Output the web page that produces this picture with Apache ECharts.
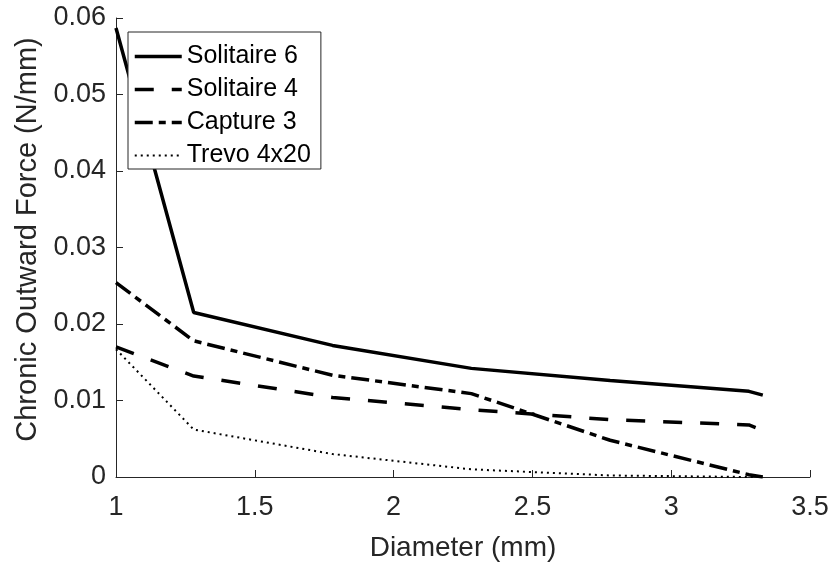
<!DOCTYPE html>
<html>
<head>
<meta charset="utf-8">
<script src="https://cdn.jsdelivr.net/npm/echarts@6/dist/echarts.min.js"></script>
<style>
  html, body { margin: 0; padding: 0; background: #fff; }
  #chart { width: 839px; height: 567px; }
</style>
</head>
<body>
<div id="chart"></div>
<script>
  // diameters (mm) where the curves were sampled
  var diameters = [1, 1.28, 1.78, 2.28, 2.78, 3.28, 3.33];

  var solitaire6 = [0.0587, 0.0215, 0.0172, 0.0142, 0.0126, 0.0112, 0.0107];
  var solitaire4 = [0.0170, 0.0132, 0.0104, 0.0088, 0.0075, 0.0068, 0.0061];
  var capture3   = [0.0254, 0.0178, 0.0133, 0.0109, 0.0048, 0.0003, 0.0000];
  var trevo      = [0.0167, 0.0062, 0.0030, 0.0010, 0.0002, 0.0000, 0.0000];

  var seriesNames = ['Solitaire 6', 'Solitaire 4', 'Capture 3', 'Trevo 4x20'];

  var xTicks = [1, 1.5, 2, 2.5, 3, 3.5];
  var yTicks = [0, 0.01, 0.02, 0.03, 0.04, 0.05, 0.06];

  var fontName = '"Liberation Sans", Arial, sans-serif';
  var axisColor = '#262626';

  var styles = [
    { width: 3.5, type: 'solid' },
    { width: 3.5, type: [19, 18] },
    { width: 3.5, type: [18, 6, 7, 6] },
    { width: 2, type: [2, 4] }
  ];

  function pairs(ys) {
    return diameters.map(function (d, i) { return [d, ys[i]]; });
  }

  function makeSeries(idx, ys) {
    return {
      name: seriesNames[idx],
      type: 'line',
      data: pairs(ys),
      symbol: 'none',
      animation: false,
      itemStyle: { color: '#000' },
      lineStyle: { color: '#000', width: styles[idx].width, type: styles[idx].type }
    };
  }

  var legendData = seriesNames.map(function (n, i) {
    return { name: n, lineStyle: { color: '#000', width: styles[i].width, type: styles[i].type } };
  });

  var chart = echarts.init(document.getElementById('chart'));
  chart.setOption({
    backgroundColor: '#fff',
    textStyle: { fontFamily: fontName },
    grid: { left: 116, right: 29, top: 18, bottom: 88, containLabel: false },
    legend: {
      orient: 'vertical',
      left: 128,
      top: 32,
      itemWidth: 47,
      itemHeight: 14,
      itemGap: 8,
      itemTextGap: 5,
      padding: [12, 10, 1, 5],
      borderColor: '#262626',
      borderWidth: 1,
      backgroundColor: '#fff',
      itemStyle: { opacity: 0 },
      textStyle: { fontFamily: fontName, fontSize: 25, lineHeight: 25, color: '#000' },
      data: legendData
    },
    xAxis: {
      type: 'value',
      min: xTicks[0],
      max: xTicks[xTicks.length - 1],
      interval: 0.5,
      name: 'Diameter (mm)',
      nameLocation: 'middle',
      nameGap: 57,
      nameTextStyle: { fontFamily: fontName, fontSize: 28, color: axisColor },
      axisLine: { lineStyle: { color: axisColor, width: 1 } },
      axisTick: { inside: true, length: 7, lineStyle: { color: axisColor } },
      axisLabel: { fontFamily: fontName, fontSize: 27, color: axisColor, margin: 17 },
      splitLine: { show: false }
    },
    yAxis: {
      type: 'value',
      min: yTicks[0],
      max: yTicks[yTicks.length - 1],
      interval: 0.01,
      name: 'Chronic Outward Force (N/mm)',
      nameLocation: 'middle',
      nameGap: 72,
      nameTextStyle: { fontFamily: fontName, fontSize: 29, color: axisColor, padding: [0, 0, 0, 16] },
      axisLine: { show: true, lineStyle: { color: axisColor, width: 1 } },
      axisTick: { show: true, inside: true, length: 7, lineStyle: { color: axisColor } },
      axisLabel: { fontFamily: fontName, fontSize: 27, color: axisColor, margin: 10 },
      splitLine: { show: false }
    },
    series: [
      makeSeries(0, solitaire6),
      makeSeries(1, solitaire4),
      makeSeries(2, capture3),
      makeSeries(3, trevo)
    ]
  });

  window.addEventListener('resize', function () {
    chart.resize();
  });
</script>
</body>
</html>
